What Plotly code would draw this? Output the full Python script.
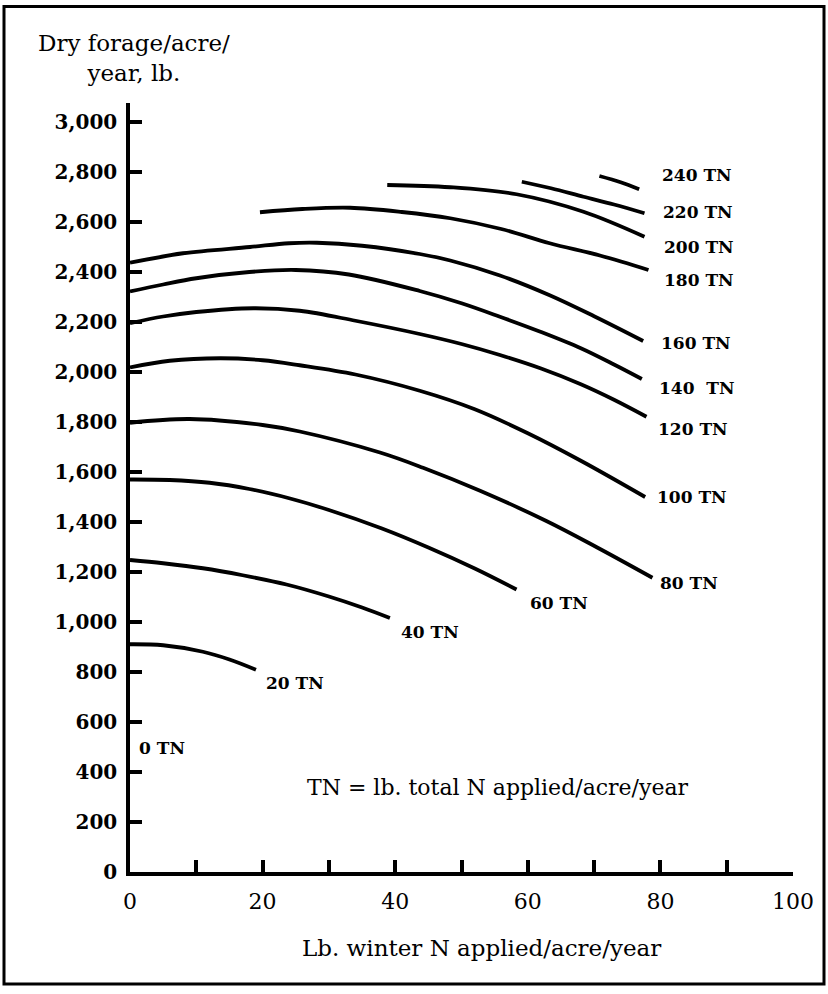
import plotly.graph_objects as go

# ---- data ----
tn20_x = [0, 5, 11, 15, 19]
tn20_y = [911, 907, 881, 850, 809]

tn40_x = [0, 5, 11, 17, 23.6, 30, 35, 39.2]
tn40_y = [1248, 1235, 1215, 1187, 1150, 1102, 1058, 1016]

tn60_x = [0, 6, 12, 18, 24, 30, 38, 45, 52, 58.3]
tn60_y = [1570, 1568, 1557, 1532, 1495, 1448, 1374, 1298, 1214, 1130]

tn80_x = [0, 9, 20, 25.6, 37.7, 44.2, 52.8, 62.8, 70.4, 78.8]
tn80_y = [1797, 1812, 1788, 1762, 1678, 1617, 1525, 1404, 1299, 1177]

tn100_x = [0, 6, 13.6, 20, 25.6, 34, 43.7, 52, 60, 68, 77.7]
tn100_y = [2018, 2045, 2055, 2047, 2027, 1990, 1925, 1851, 1755, 1645, 1500]

tn120_x = [0, 5, 10, 18.6, 25.6, 34, 43.7, 50, 55.8, 62, 68, 73, 77.9]
tn120_y = [2195, 2222, 2240, 2255, 2245, 2205, 2152, 2112, 2068, 2014, 1951, 1889, 1821]

tn140_x = [0, 5, 10, 18, 25, 33, 43.7, 50, 55.8, 62, 68, 73, 77.2]
tn140_y = [2322, 2350, 2375, 2400, 2408, 2390, 2324, 2275, 2221, 2160, 2095, 2030, 1972]

tn160_x = [0, 8, 18.1, 24, 28.2, 35, 43.7, 48.3, 55.8, 63.3, 70, 77.4]
tn160_y = [2437, 2475, 2500, 2515, 2517, 2505, 2472, 2446, 2386, 2307, 2223, 2124]

tn180_x = [19.6, 26, 33.2, 41, 48.3, 56, 63.3, 71, 78.2]
tn180_y = [2639, 2652, 2657, 2640, 2615, 2572, 2515, 2465, 2408]

tn200_x = [38.8, 48.3, 58.3, 68.4, 77.6]
tn200_y = [2748, 2739, 2711, 2641, 2541]

tn220_x = [59.1, 63.5, 68.4, 73, 77.6]
tn220_y = [2761, 2735, 2701, 2670, 2635]

tn240_x = [70.8, 74, 76.8]
tn240_y = [2784, 2759, 2731]

curves = [
    (tn20_x, tn20_y), (tn40_x, tn40_y), (tn60_x, tn60_y), (tn80_x, tn80_y),
    (tn100_x, tn100_y), (tn120_x, tn120_y), (tn140_x, tn140_y), (tn160_x, tn160_y),
    (tn180_x, tn180_y), (tn200_x, tn200_y), (tn220_x, tn220_y), (tn240_x, tn240_y),
]

label_text = ["240 TN", "220 TN", "200 TN", "180 TN", "160 TN", "140  TN", "120 TN",
              "100 TN", "80 TN", "60 TN", "40 TN", "20 TN", "0 TN"]
label_x = [79.9, 80.1, 80.2, 80.2, 79.8, 79.5, 79.4, 79.2, 79.6, 60.0, 40.5, 20.2, 1.05]
label_y = [2788, 2641, 2501, 2368, 2117, 1937, 1771, 1499, 1155, 1075, 961, 756, 496]

y_ticks = list(range(0, 3001, 200))
y_tick_text = [f"{v:,}" for v in y_ticks]
x_ticks = list(range(0, 101, 10))
x_tick_text = [str(v) if v % 20 == 0 else "" for v in x_ticks]

SERIF = "DejaVu Serif"

fig = go.Figure()
for cx, cy in curves:
    fig.add_trace(go.Scatter(x=cx, y=cy, mode="lines",
                             line=dict(color="black", width=3.8, shape="spline", smoothing=1.0),
                             hoverinfo="skip", showlegend=False))

for t, lx, ly in zip(label_text, label_x, label_y):
    fig.add_annotation(x=lx, y=ly, xref="x", yref="y", text=t, showarrow=False,
                       xanchor="left", yanchor="middle",
                       font=dict(family=SERIF, size=17, color="black", weight="bold"))

fig.add_annotation(x=(305 - 130) / 663, y=(872 - 787) / 769, xref="paper", yref="paper",
                   text="TN = lb. total N applied/acre/year", showarrow=False,
                   xanchor="left", yanchor="middle",
                   font=dict(family=SERIF, size=22, color="black"))

fig.add_annotation(x=(134 - 130) / 663, y=(872 - 58) / 769, xref="paper", yref="paper",
                   text="Dry forage/acre/<br>year, lb.", showarrow=False, align="center",
                   xanchor="center", yanchor="middle",
                   font=dict(family=SERIF, size=23, color="black"))

fig.add_annotation(x=(481 - 130) / 663, y=(872 - 948) / 769, xref="paper", yref="paper",
                   text="Lb. winter N applied/acre/year", showarrow=False,
                   xanchor="center", yanchor="middle",
                   font=dict(family=SERIF, size=23, color="black"))

# outer frame
fig.add_shape(type="rect", xref="paper", yref="paper",
              x0=(4 - 130) / 663, x1=(824 - 130) / 663,
              y0=(872 - 984) / 769, y1=(872 - 6.5) / 769,
              line=dict(color="black", width=3))

fig.update_xaxes(range=[0, 100], tickvals=x_ticks, ticktext=x_tick_text,
                 ticks="inside", ticklen=12, tickwidth=3.5, tickcolor="black",
                 showline=True, linewidth=3.5, linecolor="black",
                 showgrid=False, zeroline=False, ticklabelstandoff=7,
                 tickfont=dict(family=SERIF, size=22, color="black"))
fig.update_yaxes(range=[0, 3076], tickvals=y_ticks, ticktext=y_tick_text,
                 ticks="inside", ticklen=12, tickwidth=3.5, tickcolor="black",
                 showline=True, linewidth=3.5, linecolor="black",
                 showgrid=False, zeroline=False, ticklabelstandoff=5,
                 tickfont=dict(family=SERIF, size=20, color="black", weight="bold"))

fig.update_layout(width=828, height=994,
                  margin=dict(l=130, r=35, t=103, b=122),
                  paper_bgcolor="white", plot_bgcolor="white",
                  showlegend=False)

fig.write_html("out.html", config={"displayModeBar": False},
               post_script="document.body.style.margin='0';document.body.style.overflow='hidden';")
